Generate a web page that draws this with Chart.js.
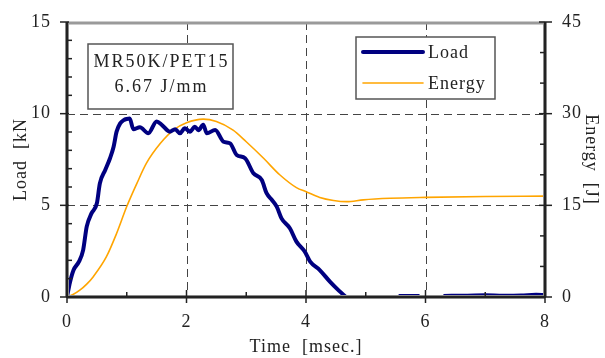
<!DOCTYPE html>
<html>
<head>
<meta charset="utf-8">
<script src="https://cdn.jsdelivr.net/npm/chart.js@4/dist/chart.umd.min.js"></script>
<style>
  html, body { margin: 0; padding: 0; background: #fff; }
  #wrap { width: 605px; height: 358px; }
</style>
</head>
<body>
<div id="wrap"><canvas id="c" width="605" height="358"></canvas></div>
<script>
// Impact test record: load (kN) and absorbed energy (J) versus time (ms)
const loadTime = [0, 0.05, 0.11, 0.2, 0.27, 0.33, 0.41, 0.5, 0.55, 0.64, 0.72, 0.78, 0.83, 0.89, 0.95, 1.0, 1.05,
  1.11, 1.22, 1.36, 1.5, 1.59, 1.72, 1.81, 1.89, 1.97, 2.06, 2.14, 2.2, 2.28, 2.34, 2.48, 2.62, 2.73, 2.84,
  2.98, 3.12, 3.26, 3.34, 3.43, 3.51, 3.59, 3.73, 3.84, 3.98, 4.07, 4.23, 4.4, 4.55, 4.67];
const loadKN = [0, 0.8, 1.47, 1.93, 2.56, 3.84, 4.56, 5.11, 6.2, 6.93, 7.57, 8.2, 9.02, 9.47, 9.65, 9.71, 9.73,
  9.15, 9.26, 8.93, 9.57, 9.38, 9.02, 9.15, 8.93, 9.2, 9.02, 9.29, 9.1, 9.4, 8.93, 9.11, 8.47, 8.38, 7.75,
  7.57, 6.75, 6.38, 5.66, 5.29, 4.93, 4.29, 3.75, 3.02, 2.47, 1.93, 1.47, 0.84, 0.35, 0];
// residual signal after the striker leaves the specimen
const tailTime = [5.55, 5.9, null, 6.3, 6.7, 7.0, 7.3, 7.6, 7.85, 8.0];
const tailKN = [0.06, 0.06, null, 0.06, 0.07, 0.09, 0.07, 0.08, 0.12, 0.1];

const energyTime = [0, 0.1, 0.22, 0.33, 0.44, 0.66, 0.83, 1.0, 1.17, 1.33, 1.56, 1.78, 2.0, 2.28, 2.5,
  2.78, 3.0, 3.29, 3.56, 3.84, 4.01, 4.23, 4.46, 4.68, 4.96, 5.41, 6.0, 7.0, 8.0];
const energyJ = [0, 0.4, 1.15, 2.1, 3.33, 6.6, 10.4, 14.8, 18.6, 21.9, 25.1, 27.3, 28.5, 29.1, 28.7,
  27.3, 25.4, 22.7, 20.0, 17.9, 17.2, 16.3, 15.8, 15.6, 15.9, 16.15, 16.3, 16.45, 16.5];

const timeTicks = [0, 2, 4, 6, 8];
const loadTicks = [0, 5, 10, 15];
const energyTicks = [0, 15, 30, 45];
const timeMinorStep = 1, loadMinorStep = 1, energyMinorStep = 5;
const specimenText = ['MR50K/PET15', '6.67 J/mm'];

const FONT = '"Liberation Serif", "DejaVu Serif", serif';
const LOAD_COLOR = '#000080';
const ENERGY_COLOR = '#FFA500';

const loadPoints = loadTime.map((t, i) => ({ x: t, y: loadKN[i] }))
  .concat([{ x: 4.8, y: null }])
  .concat(tailTime.map((t, i) => ({ x: t === null ? 6.1 : t, y: tailKN[i] })));
const energyPoints = energyTime.map((t, i) => ({ x: t, y: energyJ[i] }));

function seg(ctx, x1, y1, x2, y2) {
  ctx.beginPath(); ctx.moveTo(x1, y1); ctx.lineTo(x2, y2); ctx.stroke();
}

// fixed axis box sizes so the plot frame sits at a set place
function fixBox(w, h) {
  return s => {
    if (w !== null) s.width = w;
    if (h !== null) s.height = h;
    s.paddingTop = 0; s.paddingBottom = 0; s.paddingLeft = 0; s.paddingRight = 0;
  };
}

const framePlugin = {
  id: 'frame',
  beforeDraw(chart) {
    chart.ctx.letterSpacing = '1px';
  },
  beforeDatasetsDraw(chart) {
    const { ctx, chartArea: a, scales: { x, y } } = chart;
    ctx.save();
    ctx.strokeStyle = '#444';
    ctx.lineWidth = 1;
    ctx.setLineDash([8, 5]);
    timeTicks.slice(1, -1).forEach(v => {
      const px = Math.round(x.getPixelForValue(v)) + 0.5;
      seg(ctx, px, a.top, px, a.bottom);
    });
    loadTicks.slice(1, -1).forEach(v => {
      const py = Math.round(y.getPixelForValue(v)) + 0.5;
      seg(ctx, a.left, py, a.right, py);
    });
    ctx.restore();
  },
  afterDatasetsDraw(chart) {
    const { ctx, chartArea: a, scales: { x, y, y2 } } = chart;
    ctx.save();
    ctx.setLineDash([]);
    // top edge (light)
    ctx.strokeStyle = '#9a9a9a'; ctx.lineWidth = 3;
    seg(ctx, a.left, a.top + 1, a.right, a.top + 1);
    // left, bottom, right axes
    ctx.strokeStyle = '#8a8a8a'; ctx.lineWidth = 4;
    seg(ctx, a.left, a.top, a.left, a.bottom);
    seg(ctx, a.left, a.bottom, a.right, a.bottom);
    seg(ctx, a.right, a.top, a.right, a.bottom);
    ctx.strokeStyle = '#222'; ctx.lineWidth = 2;
    seg(ctx, a.left, a.top, a.left, a.bottom + 1);
    seg(ctx, a.left - 1, a.bottom, a.right + 1, a.bottom);
    seg(ctx, a.right, a.top, a.right, a.bottom + 1);

    // tick marks
    ctx.strokeStyle = '#222'; ctx.lineWidth = 1.5;
    for (let v = x.min; v <= x.max + 1e-9; v += timeMinorStep) {
      const px = x.getPixelForValue(v);
      if (timeTicks.includes(v)) seg(ctx, px, a.bottom - 7, px, a.bottom + 6);
      else seg(ctx, px, a.bottom - 5, px, a.bottom);
    }
    for (let v = y.min; v <= y.max + 1e-9; v += loadMinorStep) {
      const py = y.getPixelForValue(v);
      if (loadTicks.includes(v)) seg(ctx, a.left - 7, py, a.left + 2, py);
      else seg(ctx, a.left, py, a.left + 5, py);
    }
    for (let v = y2.min; v <= y2.max + 1e-9; v += energyMinorStep) {
      const py = y2.getPixelForValue(v);
      if (energyTicks.includes(v)) seg(ctx, a.right - 6, py, a.right + 7, py);
      else seg(ctx, a.right - 5, py, a.right, py);
    }

    // specimen label box
    ctx.font = '18px ' + FONT;
    ctx.textAlign = 'center';
    ctx.textBaseline = 'middle';
    const bx = a.left + 21, by = a.top + 22, bw = 145, bh = 65;
    ctx.fillStyle = '#fff';
    ctx.fillRect(bx, by, bw, bh);
    ctx.strokeStyle = '#555'; ctx.lineWidth = 1.5;
    ctx.strokeRect(bx, by, bw, bh);
    ctx.fillStyle = '#222';
    ctx.letterSpacing = '2px';
    ctx.fillText(specimenText[0], bx + bw / 2 + 1, by + 18);
    ctx.fillText(specimenText[1], bx + bw / 2 + 1, by + 43);

    // legend
    const lx = a.left + 289, ly = a.top + 15, lw = 139, lh = 62;
    ctx.fillStyle = '#fff';
    ctx.fillRect(lx, ly, lw, lh);
    ctx.strokeStyle = '#555'; ctx.lineWidth = 1.5;
    ctx.strokeRect(lx, ly, lw, lh);
    const ds = chart.data.datasets;
    ctx.textAlign = 'left';
    ctx.letterSpacing = '1px';
    [[ds[0], 15], [ds[1], 46]].forEach(([d, off]) => {
      ctx.strokeStyle = d.borderColor;
      ctx.lineWidth = d.borderWidth;
      ctx.lineCap = 'round';
      seg(ctx, lx + 7, ly + off, lx + 67, ly + off);
      ctx.fillStyle = '#222';
      ctx.fillText(d.label, lx + 72, ly + off + 1);
    });
    ctx.restore();
  }
};

new Chart(document.getElementById('c'), {
  type: 'line',
  data: {
    datasets: [
      { label: 'Load', data: loadPoints, yAxisID: 'y', borderColor: LOAD_COLOR, borderWidth: 4,
        pointRadius: 0, cubicInterpolationMode: 'monotone', fill: false, spanGaps: false },
      { label: 'Energy', data: energyPoints, yAxisID: 'y2', borderColor: ENERGY_COLOR, borderWidth: 1.6,
        pointRadius: 0, cubicInterpolationMode: 'monotone', fill: false }
    ]
  },
  options: {
    responsive: false,
    animation: false,
    devicePixelRatio: 1,
    layout: { padding: { top: 22, left: 0, right: 0, bottom: 0 } },
    plugins: { legend: { display: false }, tooltip: { enabled: false } },
    scales: {
      x: {
        type: 'linear', min: 0, max: 8,
        afterFit: fixBox(null, 61),
        afterBuildTicks: s => { s.ticks = timeTicks.map(v => ({ value: v })); },
        grid: { display: false, drawTicks: false },
        border: { display: false },
        ticks: { padding: 14, color: '#222', font: { family: FONT, size: 18 } },
        title: { display: true, text: 'Time  [msec.]', color: '#222',
          font: { family: FONT, size: 18, lineHeight: 1.2 }, padding: { top: 0, bottom: 0 } }
      },
      y: {
        type: 'linear', position: 'left', min: 0, max: 15,
        afterFit: fixBox(67, null),
        afterBuildTicks: s => { s.ticks = loadTicks.map(v => ({ value: v })); },
        grid: { display: false, drawTicks: false },
        border: { display: false },
        ticks: { padding: 16, color: '#222', font: { family: FONT, size: 18 } },
        title: { display: true, text: 'Load  [kN', color: '#222',
          font: { family: FONT, size: 18, lineHeight: 1.2 }, padding: { top: 10, bottom: 0 } }
      },
      y2: {
        type: 'linear', position: 'right', min: 0, max: 45,
        afterFit: fixBox(60, null),
        afterBuildTicks: s => { s.ticks = energyTicks.map(v => ({ value: v })); },
        grid: { display: false, drawTicks: false, drawOnChartArea: false },
        border: { display: false },
        ticks: { padding: 17, color: '#222', font: { family: FONT, size: 18 } },
        title: { display: true, text: 'Energy  [J]', color: '#222',
          font: { family: FONT, size: 18, lineHeight: 1.2 }, padding: { top: 3, bottom: 0 } }
      }
    }
  },
  plugins: [framePlugin]
});
</script>
</body>
</html>
